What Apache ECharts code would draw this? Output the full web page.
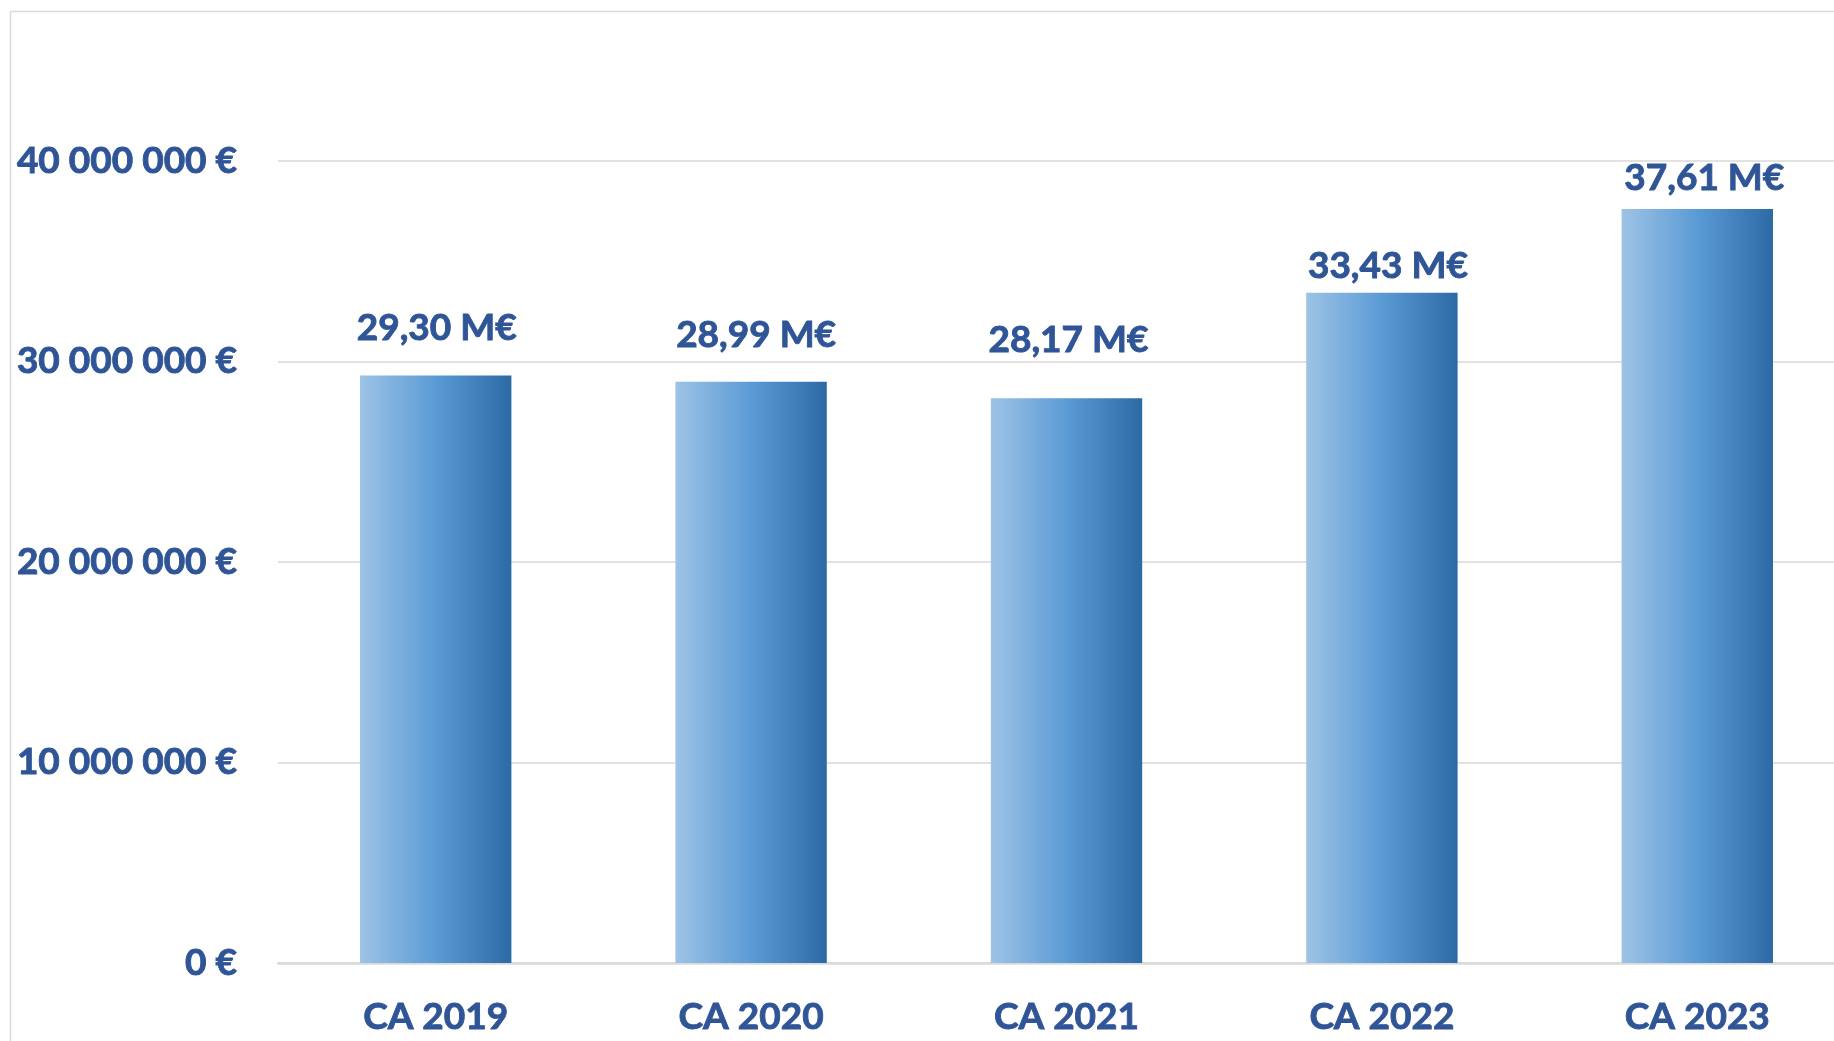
<!DOCTYPE html>
<html>
<head>
<meta charset="utf-8">
<script src="https://cdn.jsdelivr.net/npm/echarts@6/dist/echarts.min.js"></script>
<style>
html,body{margin:0;padding:0;background:#fff;overflow:hidden;}
#chart{width:1855px;height:1041px;}
</style>
</head>
<body>
<div id="chart"></div>
<script>
const categories = ['CA 2019', 'CA 2020', 'CA 2021', 'CA 2022', 'CA 2023'];
const revenue = [29300000, 28990000, 28170000, 33430000, 37610000];
const yTicks = [0, 10000000, 20000000, 30000000, 40000000];

// label placement (style only): gap above bar and small horizontal shift
const labelGap = [29, 28, 40, 8, 12];
const labelShift = [1, 5, 2, 6, 7];

const txtColor = '#2F5597';
const font = 'Lato';
const textStyle = {
  color: txtColor, fontFamily: font, fontWeight: 'bold', fontSize: 37,
  textBorderColor: txtColor, textBorderWidth: 0.9
};

function fmtEuro(v) {
  return String(Math.round(v)).replace(/\B(?=(\d{3})+(?!\d))/g, ' ') + ' €';
}
function fmtM(v) {
  return (v / 1e6).toFixed(2).replace('.', ',') + ' M€';
}

const chart = echarts.init(document.getElementById('chart'));
chart.setOption({
  animation: false,
  backgroundColor: '#fff',
  graphic: [{
    type: 'rect',
    shape: { x: 10.5, y: 11.5, width: 2000, height: 1200 },
    style: { fill: 'none', stroke: '#d9d9d9', lineWidth: 1.5 },
    silent: true
  }],
  grid: { left: 278, right: 0, top: 161, bottom: 78 },
  xAxis: {
    type: 'category',
    data: categories,
    axisLine: { show: true, lineStyle: { color: '#d9d9d9', width: 2.5 } },
    axisTick: { show: false },
    axisLabel: Object.assign({ margin: 36 }, textStyle)
  },
  yAxis: {
    type: 'value',
    min: yTicks[0],
    max: yTicks[yTicks.length - 1],
    interval: yTicks[1] - yTicks[0],
    axisLine: { show: false },
    axisTick: { show: false },
    splitLine: { lineStyle: { color: '#d9d9d9', width: 1.5 } },
    axisLabel: Object.assign({ margin: 41, formatter: fmtEuro }, textStyle)
  },
  series: [{
    type: 'bar',
    data: revenue.map((v, i) => ({
      value: v,
      label: { distance: labelGap[i], offset: [labelShift[i], 0] }
    })),
    barWidth: '48%',
    itemStyle: {
      color: new echarts.graphic.LinearGradient(0, 0, 1, 0, [
        { offset: 0, color: '#9DC3E6' },
        { offset: 0.5, color: '#5B9BD5' },
        { offset: 1, color: '#2C6AA5' }
      ])
    },
    label: Object.assign({
      show: true,
      position: 'top',
      formatter: p => fmtM(p.value)
    }, textStyle)
  }]
});
</script>
</body>
</html>
